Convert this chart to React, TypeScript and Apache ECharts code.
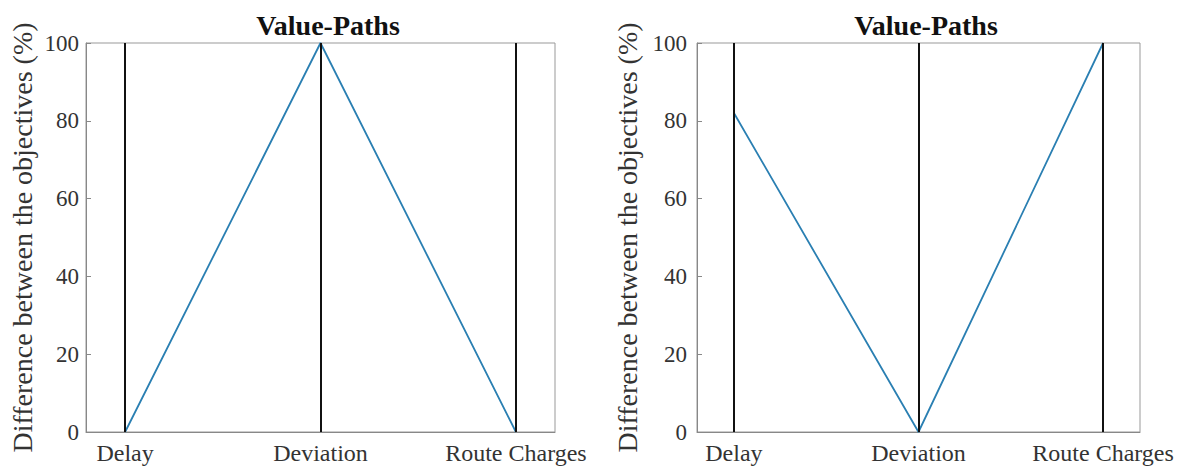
import React, { useEffect, useRef } from "react";
import * as echarts from "echarts";

const categories = ["Delay", "Deviation", "Route Charges"];
const leftValues = [0, 100, 0];
const rightValues = [82, 0, 100];
const yTicks = [0, 20, 40, 60, 80, 100];
const titleText = "Value-Paths";
const yName = "Difference between the objectives (%)";

const FONT = "'Liberation Serif', 'Times New Roman', serif";

export default function App() {
  const ref = useRef<HTMLDivElement>(null);
  useEffect(() => {
    if (!ref.current) return;
    const chart = echarts.init(ref.current, undefined, { renderer: "svg" });
    const xPos = categories.map((_, i) => i + 1);
    const toData = (vals: number[]) => vals.map((v, i) => [xPos[i], v]);
    const grids = [
      { left: 86, top: 43, width: 469, height: 389 },
      { left: 697, top: 43, width: 443, height: 389 },
    ];
    const xAxis = grids.map((_, gi) => ({
      type: "value",
      gridIndex: gi,
      min: 0.8,
      max: 3.2,
      axisLine: { show: true, lineStyle: { color: "#888", width: 1 } },
      axisTick: { show: false },
      splitLine: { show: false },
      axisLabel: {
        customValues: xPos,
        formatter: (v: number) => categories[Math.round(v) - 1] ?? "",
        color: "#333",
        fontFamily: FONT,
        fontSize: 24,
        margin: 9,
      },
    }));
    const nameGaps = [50, 56];
    const labelMargins = [7, 10];
    const yAxis = grids.map((_, gi) => ({
      type: "value",
      gridIndex: gi,
      min: 0,
      max: 100,
      interval: 20,
      name: yName,
      nameLocation: "middle",
      nameGap: nameGaps[gi],
      nameTextStyle: { fontFamily: FONT, fontSize: 28, color: "#333" },
      axisLine: { show: true, lineStyle: { color: "#888", width: 1 } },
      axisTick: { show: true, inside: true, length: 5, lineStyle: { color: "#888" } },
      splitLine: { show: false },
      axisLabel: {
        customValues: yTicks,
        color: "#333",
        fontFamily: FONT,
        fontSize: 23,
        margin: labelMargins[gi],
      },
    }));
    const mkSeries = (vals: number[], gi: number) => ({
      type: "line",
      xAxisIndex: gi,
      yAxisIndex: gi,
      data: toData(vals),
      symbol: "none",
      lineStyle: { color: "#2a7fb2", width: 1.8 },
      markLine: {
        silent: true,
        symbol: "none",
        label: { show: false },
        lineStyle: { color: "#111", width: 2, type: "solid" },
        data: xPos.map((x) => ({ xAxis: x })),
      },
      z: 3,
    });
    const titleStyle = { fontFamily: FONT, fontSize: 28, fontWeight: "bold", color: "#111" };
    chart.setOption({
      animation: false,
      backgroundColor: "#fff",
      title: [
        { text: titleText, left: 323, top: 6, textAlign: "center", textStyle: titleStyle },
        { text: titleText, left: 921, top: 6, textAlign: "center", textStyle: titleStyle },
      ],
      grid: grids.map((g) => ({
        ...g,
        show: true,
        borderColor: "#999",
        borderWidth: 1,
        backgroundColor: "transparent",
      })),
      xAxis,
      yAxis,
      series: [mkSeries(leftValues, 0), mkSeries(rightValues, 1)],
    });
    return () => chart.dispose();
  }, []);
  return (
    <div
      ref={ref}
      style={{ position: "fixed", left: 0, top: 0, width: 1187, height: 470, background: "#fff" }}
    />
  );
}
